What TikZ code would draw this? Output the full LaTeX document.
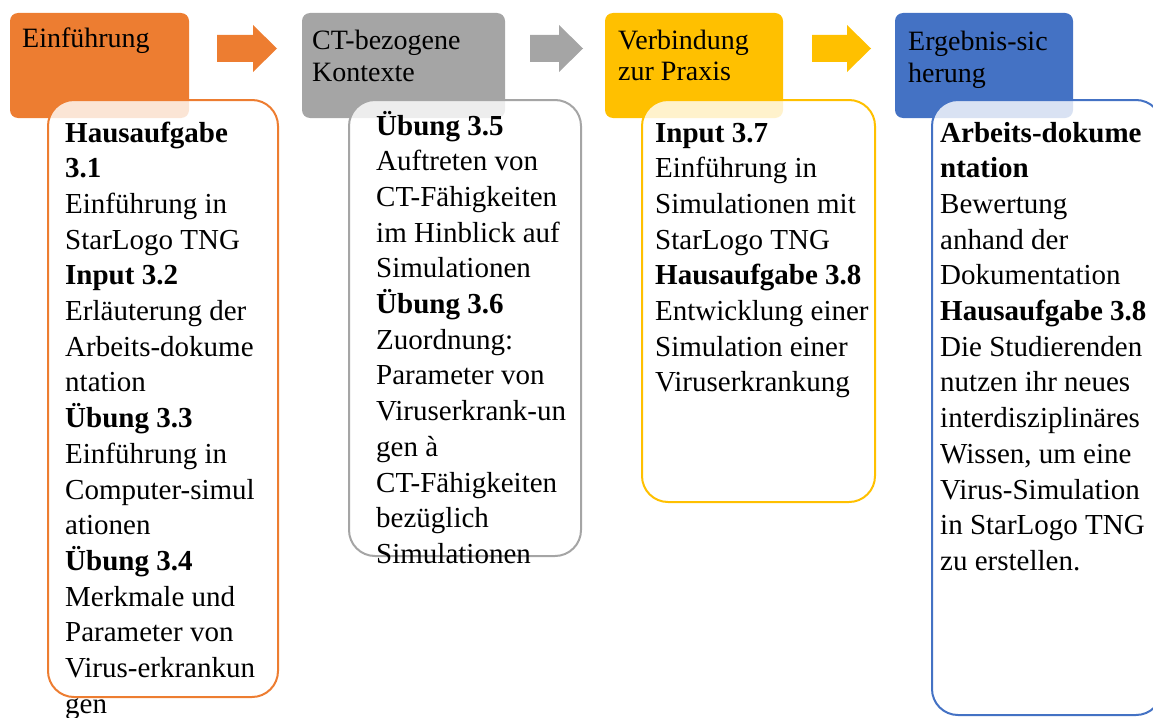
\documentclass[tikz,border=0pt]{standalone}
\usepackage{fontspec}
\setmainfont{Liberation Serif}
\usepackage{tikz}
\usetikzlibrary{}

\definecolor{orangeA}{HTML}{ED7D31}
\definecolor{grayA}{HTML}{A5A5A5}
\definecolor{yellowA}{HTML}{FFC000}
\definecolor{blueA}{HTML}{4472C4}

\tikzset{
	head/.style={rounded corners=8pt},
	stepbox/.style={rounded corners=26pt,line width=2pt,fill=white,fill opacity=0.8},
	headtext/.style={anchor=base west,inner sep=0pt,font=\fontsize{28}{32}\selectfont},
	bodytext/.style={anchor=base west,inner sep=0pt,font=\fontsize{29}{35.7}\selectfont}
}

\begin{document}
\begin{tikzpicture}[x=1pt,y=-1pt]
		\useasboundingbox (0,0) rectangle (1153,717);
		\clip (0,0) rectangle (1153,717);
		
		% headers
		\fill[head,orangeA] (10,13) rectangle (189,118);
		\fill[head,grayA] (302,13) rectangle (505,118);
		\fill[head,yellowA] (605,13) rectangle (783,118);
		\fill[head,blueA] (895,13) rectangle (1073,118);
		
		\node[headtext] (h1) at (22,48){\begin{tabular}[t]{@{}l@{}}Einführung\end{tabular}};
		\node[headtext] (h2) at (312,50){\begin{tabular}[t]{@{}l@{}}CT-bezogene\\Kontexte\end{tabular}};
		\node[headtext] (h3) at (618,49){\begin{tabular}[t]{@{}l@{}}Verbindung\\zur Praxis\end{tabular}};
		\node[headtext] (h4) at (908,51){\begin{tabular}[t]{@{}l@{}}Ergebnis-sic\\herung\end{tabular}};
		
		% arrows
		\fill[orangeA] (217,35) -- (253,35) -- (253,25) -- (277,48.5) -- (253,72) -- (253,62) -- (217,62) -- (217,35);
		\fill[grayA] (530,35) -- (559,35) -- (559,25) -- (583,48.5) -- (559,72) -- (559,62) -- (530,62) -- (530,35);
		\fill[yellowA] (812,35) -- (847,35) -- (847,25) -- (871,48.5) -- (847,72) -- (847,62) -- (812,62) -- (812,35);
		
		% boxes
		\draw[stepbox,draw=orangeA] (48,100) rectangle (278,697);
		\draw[stepbox,draw=grayA] (349,100) rectangle (581,556);
		\draw[stepbox,draw=yellowA] (642,100) rectangle (875,502);
		\draw[stepbox,draw=blueA] (932,100) rectangle (1162,715);
		
		\node[bodytext] (b1) at (65,142){\begin{tabular}[t]{@{}l@{}}\textbf{Hausaufgabe}\\\textbf{3.1}\\Einführung in\\StarLogo TNG\\\textbf{Input 3.2}\\Erläuterung der\\Arbeits-dokume\\ntation\\\textbf{Übung 3.3}\\Einführung in\\Computer-simul\\ationen\\\textbf{Übung 3.4}\\Merkmale und\\Parameter von\\Virus-erkrankun\\gen\end{tabular}};
		
		\node[bodytext] (b2) at (376,135){\begin{tabular}[t]{@{}l@{}}\textbf{Übung 3.5}\\Auftreten von\\CT-Fähigkeiten\\im Hinblick auf\\Simulationen\\\textbf{Übung 3.6}\\Zuordnung:\\Parameter von\\Viruserkrank-un\\gen à\\CT-Fähigkeiten\\bezüglich\\Simulationen\end{tabular}};
		
		\node[bodytext] (b3) at (655,142){\begin{tabular}[t]{@{}l@{}}\textbf{Input 3.7}\\Einführung in\\Simulationen mit\\StarLogo TNG\\\textbf{Hausaufgabe 3.8}\\Entwicklung einer\\Simulation einer\\Viruserkrankung\end{tabular}};
		
		\node[bodytext] (b4) at (940,142){\begin{tabular}[t]{@{}l@{}}\textbf{Arbeits-dokume}\\\textbf{ntation}\\Bewertung\\anhand der\\Dokumentation\\\textbf{Hausaufgabe 3.8}\\Die Studierenden\\nutzen ihr neues\\interdisziplinäres\\Wissen, um eine\\Virus-Simulation\\in StarLogo TNG\\zu erstellen.\end{tabular}};
	\end{tikzpicture}
\end{document}
